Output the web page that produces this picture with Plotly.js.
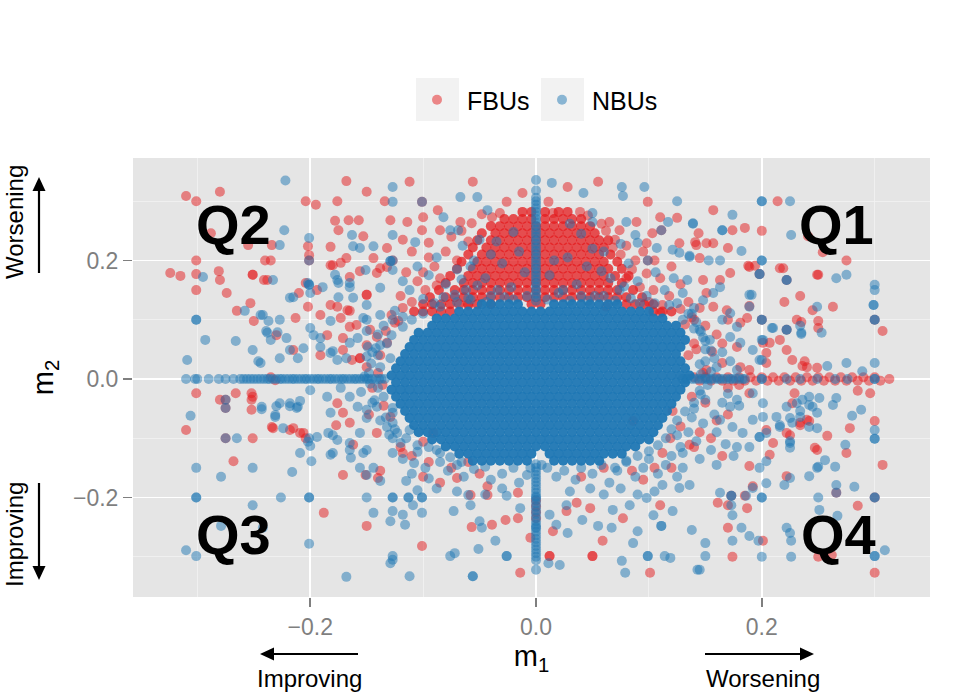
<!DOCTYPE html>
<html>
<head>
<meta charset="utf-8">
<script src="https://cdn.plot.ly/plotly-3.0.1.min.js"></script>
<style>html,body{margin:0;padding:0;background:#fff;}#chart{width:969px;height:697px;}</style>
</head>
<body>
<div id="chart"></div>
<script>
// ---------------- DATA (m1, m2) ----------------
// Dense FBU cloud above the centre: each row = [m2, m1 values...]
const fbuDenseRows = [
  [0.282, -.012,-.004,.008,.020,.028],
  [0.270, -.028,-.020,-.012,-.004,.008,.016,.024,.032,.040],
  [0.258, -.040,-.032,-.024,-.016,-.008,0,.008,.016,.024,.032,.040,.048],
  [0.246, -.048,-.036,-.028,-.020,-.012,-.004,.004,.012,.020,.028,.036,.044,.052],
  [0.234, -.052,-.040,-.032,-.024,-.016,-.008,0,.008,.016,.024,.032,.040,.048,.056,.064],
  [0.222, -.056,-.044,-.036,-.028,-.020,-.012,-.004,.004,.012,.020,.028,.036,.044,.052,.060],
  [0.210, -.060,-.048,-.040,-.032,-.024,-.016,-.008,0,.008,.016,.024,.032,.040,.048,.056,.066],
  [0.198, -.066,-.052,-.044,-.036,-.028,-.020,-.012,-.004,.004,.012,.020,.028,.036,.044,.052,.060,.072],
  [0.186, -.070,-.056,-.048,-.040,-.032,-.024,-.016,-.008,0,.008,.016,.024,.032,.040,.048,.056,.064,.076],
  [0.174, -.076,-.060,-.052,-.044,-.036,-.028,-.020,-.012,-.004,.004,.012,.020,.028,.036,.044,.052,.060,.070,.082],
  [0.162, -.080,-.064,-.056,-.048,-.040,-.032,-.024,-.016,-.008,0,.008,.016,.024,.032,.040,.048,.056,.064,.076],
  [0.150, -.086,-.072,-.064,-.056,-.048,-.040,-.032,-.024,-.016,-.008,0,.008,.016,.024,.032,.040,.048,.056,.064,.072,.086],
  [0.138, -.094,-.080,-.072,-.064,-.056,-.048,-.040,-.032,-.024,-.016,-.008,0,.008,.016,.024,.032,.040,.048,.056,.064,.072,.080,.094],
  [0.126, -.100,-.092,-.084,-.076,-.068,-.060,-.052,-.040,-.004,.004,.080,.088,.096,.104],
  [0.114, -.108,-.100,-.092,-.084,-.076,.104,.112,.120]
];
// FBU points lying on m2 = 0 to the right
const fbuBandPts = [
  [.140,.003],[.145,-.003],[.150,.003],[.155,-.003],[.160,.003],[.165,-.003],[.170,.003],[.175,-.003],
  [.180,.003],[.185,-.003],[.190,.003],[.195,-.003],[.200,.003],[.205,-.003],[.210,.003],[.215,-.003],
  [.220,.003],[.225,-.003],[.230,.003],[.235,-.003],[.240,.003],[.245,-.003],[.250,.003],[.255,-.003],
  [.260,.003],[.265,-.003],[.270,.003],[.275,-.003],[.280,.003],[.285,-.003],[.290,.003],[.295,-.003],
  [.300,.003],[.305,-.003],[.313,0]
];
// scattered FBU points
const fbuPts = [
  [-.31,.309],[-.301,.300],[-.280,.316],[-.168,.334],[-.150,.316],[-.204,.300],[-.195,.294],[-.176,.300],[-.134,.300],
  [-.178,.267],[-.175,.251],[-.166,.268],[-.157,.268],[-.153,.241],[-.288,.246],[-.255,.226],[-.234,.226],[-.202,.224],
  [-.201,.209],[-.201,.2],[-.182,.223],[-.301,.2],[-.324,.179],[-.315,.174],[-.301,.177],[-.301,.150],[-.281,.182],
  [-.280,.167],[-.274,.145],[-.251,.176],[-.251,.176],[-.240,.2],[-.235,.2],[-.241,.167],[-.253,.128],[-.265,.115],
  [-.250,.098],[-.213,.103],[-.210,.145],[-.180,.192],[-.168,.204],[-.156,.182],[-.150,.142],[-.150,.142],[-.144,.204],
  [-.138,.187],[-.182,.125],[-.191,.108],[-.173,.103],[-.165,.115],[-.159,.091],[-.171,.069],[-.156,.035],[-.156,.035],
  [-.150,.057],[-.133,.081],[-.230,.074],[-.215,.049],[-.191,.04],[-.238,.167],[-.204,.162],[-.194,.150],[-.202,.122],
  [-.182,.192],[-.173,.196],[-.165,.172],[-.141,.179],[-.132,.189],[-.176,.122],[-.167,.116],[-.185,.074],[-.171,.049],
  [-.163,.032],[-.141,.071],[-.147,.083],[-.132,.061],[-.165,.088],
  [-.112,.333],[-.101,.299],[-.056,.333],[-.012,.314],[.028,.324],[.055,.333],[.099,.299],[-.129,.268],[-.114,.265],
  [-.1,.273],[-.132,.221],[-.101,.251],[-.087,.285],[-.085,.251],[-.067,.265],[-.057,.263],[-.039,.273],[-.032,.28],
  [-.026,.299],[.011,.299],[.015,.280],[.039,.282],[.065,.265],[.089,.265],[.074,.251],[.110,.273],[.125,.272],
  [.103,.246],[.098,.229],[.127,.229],[.141,.231],[-.127,.2],[.099,.2],[.111,.251],
  [-.118,.235],[-.110,.215],[-.095,.230],[-.090,.190],[-.080,.215],[-.075,.240],[-.070,.200],[-.115,.180],[-.105,.165],
  [-.098,.150],[-.120,.140],[-.110,.130],[-.085,.170],[.075,.210],[.085,.185],[.095,.215],[.080,.170],[.092,.155],
  [.105,.200],[.110,.170],[.120,.190],[.118,.140],[.128,.160],[.135,.130],[.112,.125],[.100,.130],[.070,.235],[.062,.250],
  [-.095,.205],[-.100,.180],[-.088,.158],[.088,.200],[.098,.178],[.104,.150],[.080,.225],[-.066,.250],[.058,.262],
  [-.048,.278],[.046,.276],[-.060,.232],[.068,.222],
  [.214,.300],[.157,.285],[.174,.251],[.185,.255],[.2,.25],[.241,.241],[.144,.246],[.254,.214],[.275,.2],[.142,.226],
  [.151,.229],[.157,.229],[.170,.221],[.145,.204],[.188,.191],[.194,.191],[.198,.177],[.219,.187],[.222,.167],[.250,.176],
  [.234,.140],[.220,.130],[.263,.122],[.189,.123],[.3,.1],[.307,.081],[.2,.1],[.231,.1],[.222,.083],[.216,.066],
  [.222,.049],[.25,.098],[.25,.086],[.204,.044],[.207,.061],[.236,.022],[.249,.019],[.238,.030],[.189,.189],[.216,.187],
  [.249,.176],[.235,.096],[.245,.116],[.227,.032],[.240,.020],[.163,.167],[.172,.179],[.148,.167],[.151,.145],[.157,.122],
  [.169,.116],[.181,.095],[.187,.103],[.201,.061],[.178,.054],[.156,.046],[.165,.027],[.151,.015],[.181,.020],[.189,.015],
  [.204,.027],[.140,.100],[.150,.090],[.160,.075],[.140,.060],[.165,.060],[.135,.040],[.170,.100],[.145,.120],
  [.189,-.024],[.227,-.041],[.234,-.074],[.240,-.069],[.222,-.091],[.204,-.086],[.210,-.108],[.229,-.024],[.285,-.020],
  [.296,-.024],[.3,-.071],[.307,-.145],[.278,-.083],[.275,-.125],[.258,-.096],[.249,-.120],[.266,-.192],[.285,-.214],
  [.3,-.327],[.250,-.300],[.262,-.297],[.201,-.273],[.174,-.300],[.170,-.251],[.187,-.218],[.170,-.213],[.161,-.209],
  [.185,-.197],[.222,-.164],[.192,-.181],[.189,-.147],[.207,-.128],[.225,-.095],[.247,-.116],[.242,-.071],[.234,-.078],
  [.3,-.2],[.173,-.197],[.150,-.040],[.160,-.070],[.145,-.090],[.170,-.060],[.140,-.115],[.155,-.100],[.165,-.130],
  [.180,-.010],[.170,-.015],[.120,-.150],
  [-.101,-.282],[-.039,-.246],[-.057,-.250],[-.058,-.196],[-.070,-.167],[-.043,-.181],[-.043,-.196],[-.027,-.238],
  [-.016,-.235],[-.016,-.192],[-.005,-.268],[.012,-.299],[.012,-.299],[-.014,-.327],[.015,-.257],[.027,-.223],[.036,-.209],
  [.050,-.299],[.050,-.299],[.048,-.218],[.059,-.273],[.077,-.235],[.101,-.327],[.110,-.213],[.119,-.1],[.136,-.111],
  [.086,-.071],[.121,-.054],[-.095,-.140],[-.075,-.150],[-.050,-.160],[-.060,-.140],[.060,-.150],[.085,-.155],[.105,-.150],
  [.040,-.165],[-.110,-.130],[.095,-.170],[-.085,-.175],[-.100,-.165],[0,-.205],[0,-.215],[0,-.225],[0,-.235],
  [-.301,-.024],[-.280,-.035],[-.266,-.024],[-.252,-.024],[-.252,-.035],[-.252,-.052],[-.275,-.035],[-.275,-.049],
  [-.31,-.086],[-.275,-.1],[-.251,-.1],[-.268,-.139],[-.188,-.226],[-.233,-.083],[-.215,-.083],[-.209,-.091],[-.204,-.1],
  [-.177,-.078],[-.171,-.162],[-.162,-.111],[-.151,-.162],[-.140,-.167],[-.138,-.155],[-.150,-.248],[-.251,-.030],
  [-.235,.003],[-.231,-.002],[-.218,-.086],[-.206,-.091],[-.234,-.081],[-.176,-.041],[-.171,-.057],[-.165,-.074],
  [-.141,-.091],[-.129,-.064],[-.118,-.125],[-.1,-.106],[-.091,-.091],[-.140,.010],[-.145,-.015],[-.150,.020],
  [-.135,-.045],[-.148,-.060],[-.125,.095],
  [-.118,.120],[-.128,.108],[-.122,.098],[.128,.118],[.138,.104],[.132,.092],[-.060,.124],[.062,.122],[.110,.112],
  [-.138,.040],[-.136,-.010],[.142,.050],[.148,.010],[.138,-.030],[.128,-.080],[-.120,-.115],[.112,-.125]
];
// Dense NBU core: each row = [m2, m1 values...]
const nbuDenseRows = [
  [0.126, -.048,-.040,-.032,-.024,-.016,.016,.024,.032,.040,.048,.056,.064,.072],
  [0.114, -.068,-.060,-.052,-.044,-.036,-.028,-.020,-.012,-.004,.004,.012,.020,.028,.036,.044,.052,.060,.068,.076,.084,.092,.100],
  [0.102, -.088,-.080,-.072,-.064,-.056,-.048,-.040,-.032,-.024,-.016,-.008,0,.008,.016,.024,.032,.040,.048,.056,.064,.072,.080,.088,.096,.104,.112],
  [0.090, -.092,-.084,-.076,-.068,-.060,-.052,-.044,-.036,-.028,-.020,-.012,-.004,.004,.012,.020,.028,.036,.044,.052,.060,.068,.076,.084,.092,.100,.108,.116,.124],
  [0.078, -.104,-.096,-.088,-.080,-.072,-.064,-.056,-.048,-.040,-.032,-.024,-.016,-.008,0,.008,.016,.024,.032,.040,.048,.056,.064,.072,.080,.088,.096,.104,.112,.120,.128],
  [0.066, -.108,-.100,-.092,-.084,-.076,-.068,-.060,-.052,-.044,-.036,-.028,-.020,-.012,-.004,.004,.012,.020,.028,.036,.044,.052,.060,.068,.076,.084,.092,.100,.108,.116,.124,.132],
  [0.054, -.112,-.104,-.096,-.088,-.080,-.072,-.064,-.056,-.048,-.040,-.032,-.024,-.016,-.008,0,.008,.016,.024,.032,.040,.048,.056,.064,.072,.080,.088,.096,.104,.112,.120,.128],
  [0.042, -.116,-.108,-.100,-.092,-.084,-.076,-.068,-.060,-.052,-.044,-.036,-.028,-.020,-.012,-.004,.004,.012,.020,.028,.036,.044,.052,.060,.068,.076,.084,.092,.100,.108,.116,.124],
  [0.030, -.120,-.112,-.104,-.096,-.088,-.080,-.072,-.064,-.056,-.048,-.040,-.032,-.024,-.016,-.008,0,.008,.016,.024,.032,.040,.048,.056,.064,.072,.080,.088,.096,.104,.112,.120,.128],
  [0.018, -.124,-.116,-.108,-.100,-.092,-.084,-.076,-.068,-.060,-.052,-.044,-.036,-.028,-.020,-.012,-.004,.004,.012,.020,.028,.036,.044,.052,.060,.068,.076,.084,.092,.100,.108,.116,.124,.132],
  [0.006, -.128,-.120,-.112,-.104,-.096,-.088,-.080,-.072,-.064,-.056,-.048,-.040,-.032,-.024,-.016,-.008,0,.008,.016,.024,.032,.040,.048,.056,.064,.072,.080,.088,.096,.104,.112,.120,.128,.136],
  [-0.006, -.124,-.116,-.108,-.100,-.092,-.084,-.076,-.068,-.060,-.052,-.044,-.036,-.028,-.020,-.012,-.004,.004,.012,.020,.028,.036,.044,.052,.060,.068,.076,.084,.092,.100,.108,.116,.124,.132],
  [-0.018, -.128,-.120,-.112,-.104,-.096,-.088,-.080,-.072,-.064,-.056,-.048,-.040,-.032,-.024,-.016,-.008,0,.008,.016,.024,.032,.040,.048,.056,.064,.072,.080,.088,.096,.104,.112,.120,.128],
  [-0.030, -.124,-.116,-.108,-.100,-.092,-.084,-.076,-.068,-.060,-.052,-.044,-.036,-.028,-.020,-.012,-.004,.004,.012,.020,.028,.036,.044,.052,.060,.068,.076,.084,.092,.100,.108,.116,.124],
  [-0.042, -.120,-.112,-.104,-.096,-.088,-.080,-.072,-.064,-.056,-.048,-.040,-.032,-.024,-.016,-.008,0,.008,.016,.024,.032,.040,.048,.056,.064,.072,.080,.088,.096,.104,.112,.120],
  [-0.054, -.116,-.108,-.100,-.092,-.084,-.076,-.068,-.060,-.052,-.044,-.036,-.028,-.020,-.012,-.004,.004,.012,.020,.028,.036,.044,.052,.060,.068,.076,.084,.092,.100,.108,.116],
  [-0.066, -.112,-.104,-.096,-.088,-.080,-.072,-.064,-.056,-.048,-.040,-.032,-.024,-.016,-.008,0,.008,.016,.024,.032,.040,.048,.056,.064,.072,.080,.088,.096,.104,.112],
  [-0.078, -.108,-.100,-.092,-.084,-.076,-.068,-.060,-.052,-.044,-.036,-.028,-.020,-.012,-.004,.004,.012,.020,.028,.036,.044,.052,.060,.068,.076,.084,.092,.100,.108],
  [-0.090, -.104,-.096,-.088,-.080,-.072,-.064,-.056,-.048,-.040,-.032,-.024,-.016,-.008,0,.008,.016,.024,.032,.040,.048,.056,.064,.072,.080,.088,.096,.104],
  [-0.102, -.092,-.084,-.076,-.068,-.060,-.052,-.044,-.036,-.028,-.020,-.012,-.004,.004,.012,.020,.028,.036,.044,.052,.060,.068,.076,.084,.092,.100],
  [-0.114, -.080,-.072,-.064,-.056,-.048,-.040,-.032,-.024,-.016,-.008,0,.008,.016,.024,.032,.040,.048,.056,.064,.072,.080,.088],
  [-0.126, -.068,-.060,-.052,-.044,-.036,-.028,-.020,-.012,-.004,.012,.020,.028,.036,.044,.052,.060,.068,.076],
  [-0.138, -.056,-.048,-.040,-.032,-.024,-.016,-.008,.016,.024,.032,.040,.048,.056]
];
// NBU points lying on m2 = 0 (values of m1)
const nbuOnM2Zero = [-.310,-.302,-.300,-.290,-.281,-.275,-.268,-.262,-.259,-.256,-.253,-.250,-.247,-.244,-.241,-.238,
  -.236,-.233,-.230,-.227,-.225,-.222,-.219,-.216,-.214,-.211,-.208,-.205,-.203,-.200,-.197,-.194,-.192,-.189,-.186,
  -.183,-.181,-.178,-.175,-.172,-.170,-.167,-.164,-.161,-.159,-.156,-.153,-.150,-.148,-.145,-.142,-.139,-.137,-.134,
  .130,.134,.138,.141,.144,.147,.150,.152,.155,.158,.161,.163,.166,.169,.172,.174,.177,.180,.183,.185,
  .200,.200,.222,.234,.249,.265,.276,.300,.300];
// NBU points lying on m1 = 0 (values of m2)
const nbuOnM1Zero = [.336,.318,.306,.300,.294,.288,.282,.276,.270,.264,.258,.252,.246,.240,.234,.228,.222,.216,.210,
  .204,.198,.192,.186,.180,.174,.168,.162,.156,.150,.144,.138,.132,
  -.144,-.150,-.156,-.162,-.168,-.174,-.180,-.186,-.192,-.198,-.200,-.204,-.210,-.216,-.222,-.228,-.234,-.240,-.246,
  -.250,-.252,-.258,-.264,-.270,-.276,-.282,-.288,-.294,-.300,-.306,-.322];
// scattered NBU points
const nbuPts = [
  [-.222,.335],[-.223,.251],[-.163,.243],[-.227,.226],[-.201,.238],[-.201,.2],[-.295,.172],[-.233,.167],[-.258,.115],
  [-.242,.108],[-.237,.098],[-.301,.1],[-.301,.1],[-.293,.066],[-.266,.064],[-.309,.032],[-.251,.049],[-.218,.137],
  [-.201,.159],[-.201,.159],[-.162,.224],[-.156,.221],[-.144,.224],[-.178,.176],[-.175,.162],[-.165,.162],[-.162,.137],
  [-.150,.125],[-.153,.103],[-.138,.154],[-.129,.199],[-.129,.199],[-.221,.069],[-.239,.081],[-.235,.066],[-.246,.030],
  [-.227,.035],[-.206,.052],[-.2,.086],[-.191,.069],[-.182,.098],[-.180,.047],[-.168,.035],[-.150,.081],[-.138,.108],
  [-.138,.057],[-.129,.035],
  [-.215,.138],[-.2,.145],[-.202,.162],[-.189,.155],[-.176,.167],[-.175,.138],[-.165,.155],[-.151,.184],[-.150,.1],
  [-.127,.1],[-.127,.184],[-.244,.108],[-.227,.1],[-.238,.078],[-.229,.079],[-.218,.049],[-.211,.035],[-.197,.074],
  [-.191,.054],[-.182,.044],[-.176,.032],[-.165,.061],[-.158,.069],[-.149,.054],[-.140,.040],[-.244,.027],
  [-.243,-.047],[-.231,-.064],[-.227,-.041],[-.218,-.041],[-.211,-.047],[-.2,-.019],[-.185,-.030],[-.173,-.015],
  [-.165,-.030],[-.158,-.047],[-.182,-.057],[-.184,-.091],[-.176,-.103],[-.165,-.120],[-.153,-.125],[-.156,-.091],
  [-.150,-.066],[-.141,-.047],[-.132,-.081],[-.127,-.057],[-.209,-.125],[-.202,-.106],[-.194,-.098],[-.123,-.091],
  [-.112,-.086],[-.105,-.123],[-.088,-.120],
  [-.275,-.035],[-.275,-.049],[-.306,-.062],[-.275,-.1],[-.265,-.1],[-.243,-.051],[-.301,-.150],[-.279,-.165],
  [-.251,-.150],[-.301,-.2],[-.301,-.2],[-.251,-.213],[-.279,-.248],[-.242,-.251],[-.31,-.289],[-.301,-.299],[-.226,-.2],
  [-.201,-.2],[-.201,-.2],[-.201,-.278],[-.168,-.334],[-.216,-.157],[-.199,-.139],[-.2,-.113],[-.201,-.1],[-.224,-.083],
  [-.230,-.046],[-.218,-.046],[-.212,-.049],[-.209,-.037],[-.231,-.061],[-.180,-.095],[-.180,-.125],[-.182,-.128],
  [-.164,-.133],[-.156,-.150],[-.150,-.162],[-.144,-.150],[-.138,-.172],[-.150,-.120],[-.165,-.108],[-.150,-.2],
  [-.144,-.226],[-.129,-.240],[-.127,-.305],[-.129,-.311],
  [-.127,-.049],[-.127,-.074],[-.127,-.1],[-.127,-.125],[-.127,-.2],[-.127,-.2],[-.113,-.2],[-.113,-.2],[-.101,-.2],
  [-.101,-.2],[-.127,-.223],[-.116,-.246],[-.118,-.229],[-.101,-.226],[-.109,-.213],[-.127,-.299],[-.112,-.333],
  [-.076,-.299],[-.072,-.294],[-.056,-.333],[-.056,-.333],[-.051,-.287],[-.036,-.273],[-.026,-.299],[-.026,-.299],
  [-.048,-.251],[-.073,-.223],[-.060,-.196],[-.058,-.213],[-.050,-.240],[-.026,-.197],[-.014,-.218],[.011,-.311],
  [.021,-.314],[.012,-.229],[.018,-.246],[.028,-.260],[.041,-.238],[.027,-.213],[.055,-.248],[.067,-.251],[.076,-.307],
  [.079,-.327],[.086,-.277],[.090,-.257],[.099,-.299],[.099,-.299],[.111,-.248],[.111,-.248],[.114,-.299],[.119,-.302],
  [.138,-.255],[.143,-.322],[.068,-.221],[.083,-.213],[.098,-.201],[.104,-.230],[.112,-.179],[.121,-.223],[.127,-.184],
  [.136,-.179],
  [-.118,-.135],[-.108,-.142],[-.098,-.150],[-.110,-.160],[-.095,-.168],[-.085,-.140],[-.078,-.155],[-.070,-.145],
  [-.064,-.165],[-.055,-.152],[-.045,-.148],[-.040,-.170],[-.030,-.160],[-.020,-.150],[-.015,-.175],[-.008,-.162],
  [.010,-.150],[.018,-.165],[.025,-.155],[.035,-.170],[.040,-.150],[.050,-.160],[.058,-.145],[.065,-.175],[.072,-.155],
  [.080,-.140],[.088,-.165],[.095,-.150],[.100,-.135],[.108,-.160],[.115,-.145],[.120,-.130],[.125,-.165],[.130,-.150],
  [-.088,-.185],[-.070,-.190],[-.045,-.195],[-.030,-.185],[.030,-.190],[.048,-.185],[.060,-.195],[.075,-.185],
  [.090,-.195],[.105,-.190],[-.105,-.188],[-.115,-.172],
  [.130,.100],[.140,.085],[.148,.070],[.150,.050],[.158,.035],[.145,.025],[.155,.012],[.165,.045],[.172,.030],
  [.178,.015],[.138,.110],[.145,-.020],[.150,-.035],[.140,-.050],[.158,-.060],[.148,-.075],[.135,-.090],[.142,-.105],
  [.128,-.115],[.160,-.090],[.168,-.110],[.155,-.120],[.170,-.025],[.180,-.045],[.165,-.040],[.138,-.065],[.125,-.095],
  [.130,-.125],[.145,-.135],[.160,-.145],[.175,-.130],
  [.191,.142],[.189,.122],[.2,.1],[.2,.1],[.209,.086],[.235,.078],[.222,.083],[.222,.083],[.178,.088],[.172,.071],
  [.181,.061],[.192,.049],[.201,.066],[.198,.032],[.165,.1],[.172,.111],[.148,.133],[.157,.145],[.163,.155],[.134,.167],
  [.125,.128],[.145,.083],[.154,.066],
  [.192,-.024],[.201,-.041],[.213,-.064],[.201,-.064],[.222,-.047],[.231,-.041],[.236,-.035],[.242,-.030],[.245,-.047],
  [.227,-.074],[.216,-.081],[.225,-.108],[.242,-.081],[.249,-.057],[.234,-.064],[.178,-.035],[.172,-.047],[.163,-.069],
  [.174,-.081],[.183,-.091],[.192,-.069],[.198,-.098],[.198,-.098],[.204,-.091],[.189,-.115],[.178,-.115],
  [.3,-.086],[.3,-.101],[.3,-.101],[.288,-.052],[.280,-.062],[.274,-.111],[.265,-.148],[.256,-.137],[.250,-.148],
  [.242,-.164],[.266,-.179],[.266,-.192],[.282,-.182],[.3,-.2],[.3,-.2],[.250,-.2],[.251,-.221],[.267,-.231],[.309,-.289],
  [.3,-.299],[.3,-.299],[.222,-.251],[.225,-.260],[.226,-.273],[.226,-.300],[.2,-.3],[.189,-.265],[.197,-.273],
  [.174,-.273],[.150,-.277],[.150,-.299],[.145,-.322],[.182,-.251],[.174,-.230],[.173,-.213],[.186,-.197],[.192,-.184],
  [.163,-.192],[.173,-.197],[.173,-.197],[.2,-.2],[.2,-.2],[.204,-.176],[.220,-.179],[.225,-.167],[.198,-.150],
  [.204,-.139],[.249,-.150],[.225,-.116],[.225,-.105],[.216,-.078],[.225,-.066],[.234,-.054],[.242,-.044],[.251,-.032],
  [.263,-.044],[.266,-.032],[.249,-.083],
  [.125,.300],[.2,.3],[.2,.3],[.225,.300],[.174,.277],[.139,.262],[.165,.251],[.165,.251],[.226,.243],[.182,.216],
  [.136,.208],[.153,.2],[.163,.2],[.2,.2],[.2,.2],[.198,.177],[.198,.177],[.222,.167],[.222,.167],[.266,.170],
  [.275,.176],[.3,.159],[.3,.150],[.249,.122],[.299,.125],[.299,.125],[.189,.142],[.3,.1],[.3,.1],[.234,.09],
  [.235,.076],[.253,.078],[.210,.086],[.2,.066],[.2,.032],[.275,.027],[.3,.027],[.258,.022],[.289,.013],
  [-.127,.324],[-.127,.299],[-.101,.299],[-.067,.307],[-.052,.307],[.014,.331],[.042,.314],[.076,.324],[.077,.309],
  [.096,.324],[-.127,.243],[-.127,.2],[-.107,.231],[-.082,.273],[-.076,.251],[-.069,.251],[-.05,.235],
  [-.043,.285],[.05,.28],[.05,.265],[.08,.265],[.117,.265],[.139,.263],[.111,.251],[.088,.243],[.107,.221],
  [.121,.218],[.127,.213],[.136,.206],[.099,.2],
  [-.105,.190],[-.095,.175],[-.088,.205],[-.080,.160],[-.070,.185],[-.062,.150],[-.055,.200],[-.045,.170],[-.040,.140],
  [-.030,.195],[-.022,.155],[-.015,.215],[.012,.175],[.020,.145],[.028,.205],[.036,.160],[.045,.190],[.052,.140],
  [.060,.215],[.066,.170],[.074,.150],[.082,.195],[.090,.165],[.098,.140],[.106,.180],[.114,.150],[.122,.170],
  [.130,.145],[-.112,.150],[-.118,.165],[-.100,.135],[.105,.128],[.118,.125],[-.090,.128],[.075,.228],[-.065,.225],
  [.090,.230],[-.035,.232],[.040,.245],[-.010,.180],[.058,.182],[-.052,.158],[.030,.132],[-.028,.138],[.084,.136],
  [-.072,.142],[-.058,.134],[-.044,.130],[-.020,.134],[-.008,.140],[.010,.134],[.024,.150],[.046,.132],[.060,.140],
  [.070,.132],[.092,.128],[-.082,.138],[-.034,.150],[.040,.140],[-.066,.168],[.016,.200],[-.040,.210],[.050,.220],
  [-.020,.248],[.030,.262],[-.058,.190],[.078,.156],
  [-.135,.090],[-.140,.075],[-.132,.060],[-.145,.045],[-.138,.020],[-.148,.010],[-.140,-.015],[-.135,-.030],
  [-.145,-.040],[-.133,-.065],[-.125,.115],[-.118,.105],[-.125,-.085],[-.115,-.100],[-.105,-.112],
  [-.142,.052],[-.150,.038],[-.146,.026],[-.152,.004],[-.147,-.008],[-.155,-.022],[-.143,-.036],[-.150,-.052],
  [-.138,-.070],[-.130,-.094],[-.120,-.108],[-.128,.074],[-.118,.088],[-.110,.100],[-.100,.110],[-.085,.122],
  [-.070,.130],[-.060,.136],[.140,.120],[.135,.110],[.142,.096],[.146,.080],[.150,.064],[.155,.048],[.150,.030],
  [.160,.020],[.146,.008],[.152,-.010],[.146,-.026],[.140,-.040],[.132,-.055],[.125,-.070],[.120,-.085],[.115,-.100],
  [.108,-.112],[.100,-.122],[.090,-.130],[.080,-.138],[.070,-.150],[-.066,-.140],[-.076,-.132],[-.085,-.125],
  [-.095,-.115],[-.005,-.150],[.005,-.145]
];
const xTickVals = [-0.2, 0.0, 0.2];
const yTickVals = [-0.2, 0.0, 0.2];
const seriesNames = ['FBUs', 'NBUs'];
// ---------------------------------------------------------------------

function fromRows(rows) {
  const x = [], y = [];
  rows.forEach(r => { for (let i = 1; i < r.length; i++) { x.push(r[i]); y.push(r[0]); } });
  return {x, y};
}
function fromPairs(list) {
  return {x: list.map(p => p[0]), y: list.map(p => p[1])};
}

const RED = '#E41A1C', BLUE = '#1F77B4';
const FONT = 'Liberation Sans, Arial, Helvetica, sans-serif';

const fbuDense = fromRows(fbuDenseRows);
const fbuScatter = fromPairs(fbuBandPts.concat(fbuPts));
const nbuDense = fromRows(nbuDenseRows);
const nbuScat = fromPairs(nbuPts);
nbuOnM2Zero.forEach(v => { nbuScat.x.push(v); nbuScat.y.push(0); });
nbuOnM1Zero.forEach(v => { nbuScat.x.push(0); nbuScat.y.push(v); });

const traces = [
  {type: 'scatter', mode: 'markers', x: fbuDense.x, y: fbuDense.y, name: seriesNames[0], legendgroup: 'f',
   showlegend: false, hoverinfo: 'skip', marker: {color: RED, opacity: 0.75, size: 10, line: {width: 0}}},
  {type: 'scatter', mode: 'markers', x: fbuScatter.x, y: fbuScatter.y, name: seriesNames[0], legendgroup: 'f',
   marker: {color: RED, opacity: 0.5, size: 10, line: {width: 0}}},
  {type: 'scatter', mode: 'markers', x: nbuDense.x, y: nbuDense.y, name: seriesNames[1], legendgroup: 'n',
   showlegend: false, hoverinfo: 'skip', marker: {color: BLUE, opacity: 0.95, size: 10, line: {width: 0}}},
  {type: 'scatter', mode: 'markers', x: nbuScat.x, y: nbuScat.y, name: seriesNames[1], legendgroup: 'n',
   marker: {color: BLUE, opacity: 0.5, size: 10, line: {width: 0}}}
];

function px2paperX(px) { return (px - 133) / 797; }
function px2paperY(py) { return (597 - py) / 439; }

const qFont = {family: FONT, size: 56, color: '#000'};
const sideFont = {family: FONT, size: 24, color: '#000'};
const txt = (px, py, text, angle) => ({xref: 'paper', yref: 'paper', x: px2paperX(px), y: px2paperY(py),
  xanchor: 'center', yanchor: 'middle', text: text, textangle: angle || 0, showarrow: false, font: sideFont});

const annotations = [
  {x: 0.266, y: 0.26, xref: 'x', yref: 'y', text: '<b>Q1</b>', showarrow: false, font: qFont},
  {x: -0.268, y: 0.26, xref: 'x', yref: 'y', text: '<b>Q2</b>', showarrow: false, font: qFont},
  {x: -0.268, y: -0.263, xref: 'x', yref: 'y', text: '<b>Q3</b>', showarrow: false, font: qFont},
  {x: 0.268, y: -0.263, xref: 'x', yref: 'y', text: '<b>Q4</b>', showarrow: false, font: qFont},
  txt(14, 222, 'Worsening', -90),
  txt(14, 535, 'Improving', -90),
  txt(309, 678, 'Improving'),
  txt(763, 678, 'Worsening')
];

// arrows drawn as shapes (pixel positions converted to paper fractions)
function arrowShapes(tx, ty, bx, by) {
  const L = 14, W = 6.5;
  const dx = bx - tx, dy = by - ty, len = Math.hypot(dx, dy);
  const ux = dx / len, uy = dy / len;
  const hx = tx + ux * L, hy = ty + uy * L;
  const p = (x, y) => px2paperX(x) + ',' + px2paperY(y);
  return [
    {type: 'line', xref: 'paper', yref: 'paper', x0: px2paperX(hx - ux * 2), y0: px2paperY(hy - uy * 2),
     x1: px2paperX(bx), y1: px2paperY(by), line: {color: '#000', width: 2.2}},
    {type: 'path', xref: 'paper', yref: 'paper', fillcolor: '#000', line: {width: 0},
     path: 'M' + p(tx, ty) + 'L' + p(hx - uy * W, hy + ux * W) + 'L' + p(hx + uy * W, hy - ux * W) + 'Z'}
  ];
}

const keyBox = (x0, x1) => ({type: 'rect', xref: 'paper', yref: 'paper', x0: px2paperX(x0), x1: px2paperX(x1),
  y0: px2paperY(121), y1: px2paperY(78), fillcolor: '#F2F2F2', line: {width: 0}, layer: 'below'});

const axisCommon = {
  showgrid: true, gridcolor: '#FFFFFF', gridwidth: 1.6, zeroline: false, showline: false,
  ticks: 'outside', ticklen: 9, tickwidth: 1.6, tickcolor: '#7F7F7F', tickformat: '.1f',
  tickfont: {family: FONT, size: 23, color: '#7F7F7F'},
  minor: {dtick: 0.1, tick0: 0, showgrid: true, gridcolor: '#F2F2F2', gridwidth: 0.8, ticks: ''},
  fixedrange: true
};

const layout = {
  width: 969, height: 697,
  margin: {l: 133, r: 39, t: 158, b: 100, pad: 0},
  paper_bgcolor: '#FFFFFF', plot_bgcolor: '#E5E5E5',
  font: {family: FONT, color: '#000'},
  showlegend: true,
  legend: {orientation: 'h', x: px2paperX(407), xanchor: 'left', y: px2paperY(100), yanchor: 'middle',
           bgcolor: 'rgba(0,0,0,0)', font: {family: FONT, size: 25, color: '#000'},
           itemwidth: 50, entrywidth: 60, itemclick: false, itemdoubleclick: false},
  xaxis: Object.assign({}, axisCommon, {range: [-0.357, 0.349], tickvals: xTickVals,
           title: {text: 'm<sub>1</sub>', font: {family: FONT, size: 29, color: '#000'}, standoff: 0}}),
  yaxis: Object.assign({}, axisCommon, {range: [-0.368, 0.373], tickvals: yTickVals,
           title: {text: 'm<sub>2</sub>', font: {family: FONT, size: 29, color: '#000'}, standoff: 10}}),
  shapes: [keyBox(416, 459), keyBox(541, 584)]
    .concat(arrowShapes(39, 177, 39, 273))
    .concat(arrowShapes(39, 580, 39, 483))
    .concat(arrowShapes(260, 654, 358, 654))
    .concat(arrowShapes(814, 654, 705, 654)),
  annotations: annotations
};

Plotly.newPlot('chart', traces, layout, {displayModeBar: false, staticPlot: true});
</script>
</body>
</html>
